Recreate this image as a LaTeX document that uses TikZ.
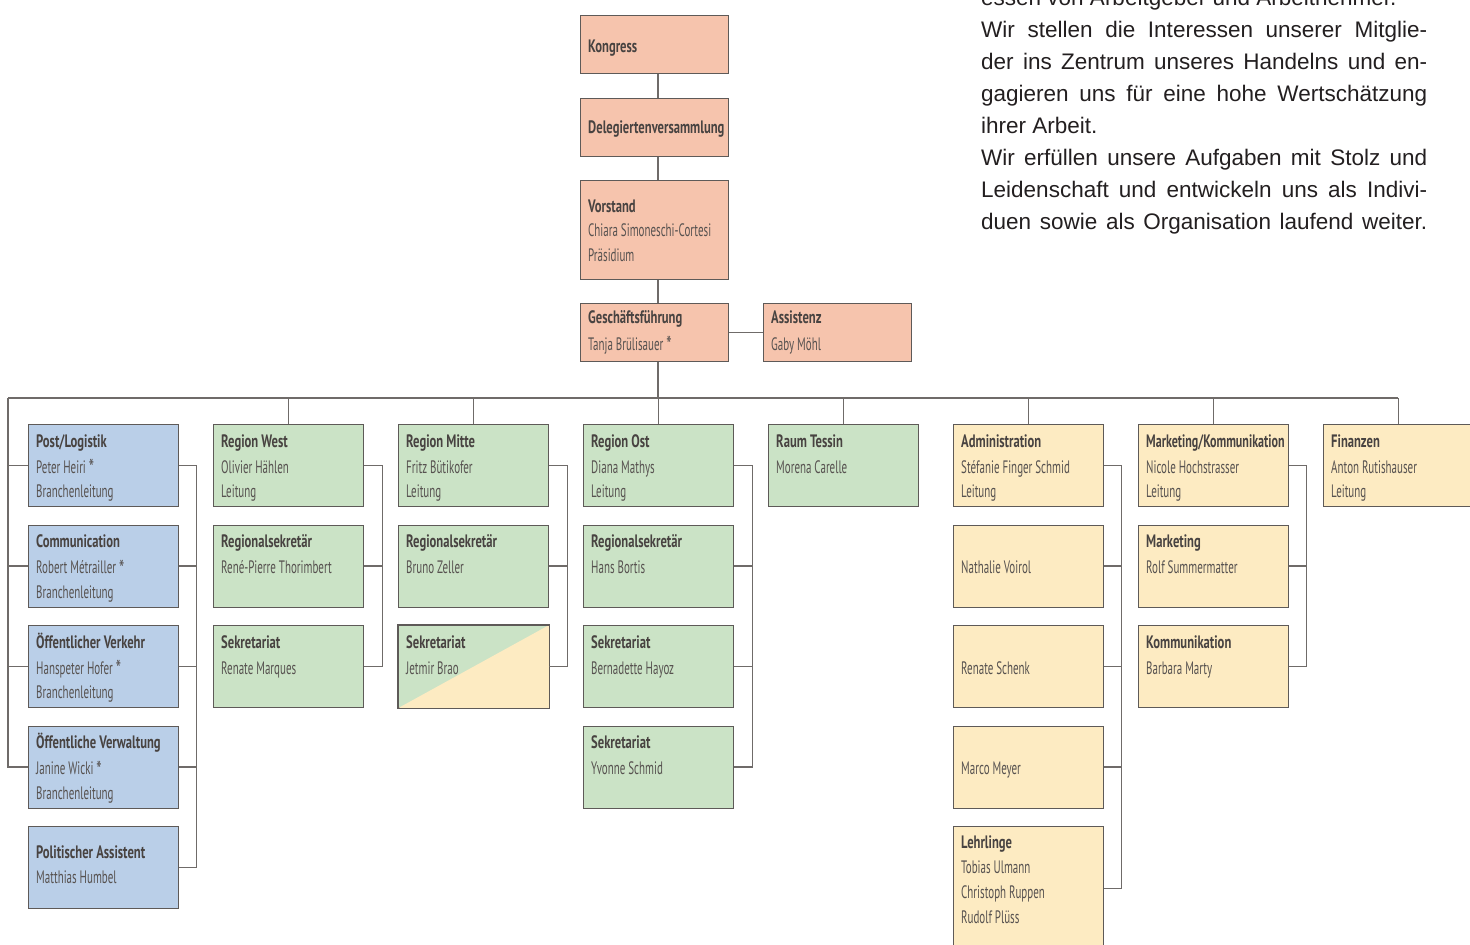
\documentclass[tikz,border=0pt]{standalone}
\usepackage{fontspec}
\usetikzlibrary{calc}
\newfontfamily\titlefont{PT Sans}[FakeStretch=0.70]
\newfontfamily\namefont{PT Sans}[FakeStretch=0.61]
\newfontfamily\parafont{Liberation Sans}
\definecolor{salmon}{HTML}{F6C4AD}
\definecolor{blu}{HTML}{BACFE8}
\definecolor{grn}{HTML}{CBE3C6}
\definecolor{yel}{HTML}{FDEBC2}
\definecolor{bordercol}{HTML}{5E5A58}
\definecolor{linecol}{HTML}{6F6B69}
\definecolor{titlecol}{HTML}{484341}
\definecolor{namecol}{HTML}{575250}
\definecolor{paracol}{HTML}{231F20}
\newcommand\bigast{\raisebox{-3.5pt}{\scalebox{1.35}{*}}}
\newcommand\orgbox[5]{\node[orgbox,fill=#5,minimum height=#4pt] (#1) at (#2,#3) {};}
\newcommand\topbox[5]{\node[orgbox,topbox,fill=#5,minimum height=#4pt] (#1) at (#2,#3) {};}
\newcommand\boxtitle[4]{\node[boxtitle] (#1) at ($(#2.north west)+(8,#3)$) {#4};}
\newcommand\boxline[4]{\node[boxname] (#1) at ($(#2.north west)+(8,#3)$) {#4};}
\newcommand\paraline[3]{\node[paraline] (#1) at (981,#2) {#3};}
\begin{document}
\begin{tikzpicture}[x=1pt,y=-1pt,
  orgbox/.style={draw=bordercol,line width=1.2pt,anchor=north west,minimum width=150pt,inner sep=0pt},
  topbox/.style={minimum width=148pt},
  boxtitle/.style={anchor=base west,inner sep=0pt,text=titlecol,font={\fontsize{18}{20}\selectfont\titlefont\bfseries}},
  boxname/.style={anchor=base west,inner sep=0pt,text=namecol,font={\fontsize{18}{20}\selectfont\namefont}},
  paraline/.style={anchor=base west,inner sep=0pt,text=paracol,font={\fontsize{22.5}{32}\selectfont\parafont}},
  conn/.style={draw=linecol,line width=1.3pt}]
\useasboundingbox (0,0) rectangle (1470,945);
\clip (0,0) rectangle (1470,945);
\fill[white] (0,0) rectangle (1470,945);

% ---------- right paragraph ----------
\paraline{p0}{5}{essen von Arbeitgeber und Arbeitnehmer.}
\paraline{p1}{37}{\makebox[446pt][s]{Wir stellen die Interessen unserer Mitglie-}}
\paraline{p2}{69}{\makebox[446pt][s]{der ins Zentrum unseres Handelns und en-}}
\paraline{p3}{101}{\makebox[446pt][s]{gagieren uns für eine hohe Wertschätzung}}
\paraline{p4}{133}{ihrer Arbeit.}
\paraline{p5}{165}{\makebox[446pt][s]{Wir erfüllen unsere Aufgaben mit Stolz und}}
\paraline{p6}{197}{\makebox[446pt][s]{Leidenschaft und entwickeln uns als Indivi-}}
\paraline{p7}{229}{\makebox[446pt][s]{duen sowie als Organisation laufend weiter.}}

% ---------- top column ----------
\coordinate (axis) at (658,0);
\topbox{kong}{580}{15}{58}{salmon}
\topbox{deleg}{580}{98}{58}{salmon}
\topbox{vor}{580}{180}{99}{salmon}
\topbox{gf}{580}{303}{58}{salmon}
\topbox{ass}{763}{303}{58}{salmon}
\draw[conn] (kong.south -| axis) -- (deleg.north -| axis);
\draw[conn] (deleg.south -| axis) -- (vor.north -| axis);
\draw[conn] (vor.south -| axis) -- (gf.north -| axis);
\draw[conn] (gf.east) -- (ass.west);
\boxtitle{kongA}{kong}{37}{Kongress}
\boxtitle{delegA}{deleg}{35}{Delegiertenversammlung}
\boxtitle{vorA}{vor}{32}{Vorstand}
\boxline{vorB}{vor}{56}{Chiara Simoneschi-Cortesi}
\boxline{vorC}{vor}{81}{Präsidium}
\boxtitle{gfA}{gf}{20}{Geschäftsführung}
\boxline{gfB}{gf}{47}{Tanja Brülisauer \bigast}
\boxtitle{assA}{ass}{20}{Assistenz}
\boxline{assB}{ass}{47}{Gaby Möhl}

% ---------- bus ----------
\coordinate (busL) at (8,398);
\coordinate (busR) at (1398,398);
\draw[conn] (gf.south -| axis) -- (axis |- busL);
\draw[conn] (busL) -- (busR);

% ---------- column 1 (blue) ----------
\orgbox{a1}{28}{424}{82}{blu}
\orgbox{a2}{28}{524.5}{82}{blu}
\orgbox{a3}{28}{625}{82}{blu}
\orgbox{a4}{28}{725.5}{82}{blu}
\orgbox{a5}{28}{826}{82}{blu}
\boxtitle{a1A}{a1}{23}{Post/Logistik}
\boxline{a1B}{a1}{49}{Peter Heiri \bigast}
\boxline{a1C}{a1}{73.5}{Branchenleitung}
\boxtitle{a2A}{a2}{23}{Communication}
\boxline{a2B}{a2}{49}{Robert Métrailler \bigast}
\boxline{a2C}{a2}{73.5}{Branchenleitung}
\boxtitle{a3A}{a3}{23}{Öffentlicher Verkehr}
\boxline{a3B}{a3}{49}{Hanspeter Hofer \bigast}
\boxline{a3C}{a3}{73.5}{Branchenleitung}
\boxtitle{a4A}{a4}{23}{Öffentliche Verwaltung}
\boxline{a4B}{a4}{49}{Janine Wicki \bigast}
\boxline{a4C}{a4}{73.5}{Branchenleitung}
\boxtitle{a5A}{a5}{32}{Politischer Assistent}
\boxline{a5B}{a5}{57}{Matthias Humbel}
\draw[conn] (busL) -- (busL |- a4.west) -- (a4.west);
\foreach \n in {a1,a2,a3} \draw[conn] (\n.west) -- (\n.west -| busL);
\draw[conn] (a1.east) -- ++(17,0) |- (a5.east);
\foreach \n in {a2,a3,a4} \draw[conn] (\n.east) -- ++(17,0);

% ---------- column 2 ----------
\orgbox{b1}{213}{424}{82}{grn}
\orgbox{b2}{213}{524.5}{82}{grn}
\orgbox{b3}{213}{625}{82}{grn}
\boxtitle{b1A}{b1}{23}{Region West}
\boxline{b1B}{b1}{49}{Olivier Hählen}
\boxline{b1C}{b1}{73.5}{Leitung}
\boxtitle{b2A}{b2}{23}{Regionalsekretär}
\boxline{b2B}{b2}{49}{René-Pierre Thorimbert}
\boxtitle{b3A}{b3}{23}{Sekretariat}
\boxline{b3B}{b3}{49}{Renate Marques}
\draw[conn] (b1.north) -- (b1.north |- busL);
\draw[conn] (b1.east) -- ++(18,0) |- (b3.east);
\draw[conn] (b2.east) -- ++(18,0);

% ---------- column 3 ----------
\orgbox{c1}{398}{424}{82}{grn}
\orgbox{c2}{398}{524.5}{82}{grn}
\orgbox{c3}{398}{625}{82}{grn}
\fill[yel] (c3.south west) -- (c3.north east) -- (c3.south east) -- cycle;
\draw[draw=bordercol,line width=1.2pt] (c3.south west) rectangle (c3.north east);
\boxtitle{c1A}{c1}{23}{Region Mitte}
\boxline{c1B}{c1}{49}{Fritz Bütikofer}
\boxline{c1C}{c1}{73.5}{Leitung}
\boxtitle{c2A}{c2}{23}{Regionalsekretär}
\boxline{c2B}{c2}{49}{Bruno Zeller}
\boxtitle{c3A}{c3}{23}{Sekretariat}
\boxline{c3B}{c3}{49}{Jetmir Brao}
\draw[conn] (c1.north) -- (c1.north |- busL);
\draw[conn] (c1.east) -- ++(18,0) |- (c3.east);
\draw[conn] (c2.east) -- ++(18,0);

% ---------- column 4 ----------
\orgbox{d1}{583}{424}{82}{grn}
\orgbox{d2}{583}{524.5}{82}{grn}
\orgbox{d3}{583}{625}{82}{grn}
\orgbox{d4}{583}{725.5}{82}{grn}
\boxtitle{d1A}{d1}{23}{Region Ost}
\boxline{d1B}{d1}{49}{Diana Mathys}
\boxline{d1C}{d1}{73.5}{Leitung}
\boxtitle{d2A}{d2}{23}{Regionalsekretär}
\boxline{d2B}{d2}{49}{Hans Bortis}
\boxtitle{d3A}{d3}{23}{Sekretariat}
\boxline{d3B}{d3}{49}{Bernadette Hayoz}
\boxtitle{d4A}{d4}{23}{Sekretariat}
\boxline{d4B}{d4}{49}{Yvonne Schmid}
\draw[conn] (d1.north) -- (d1.north |- busL);
\draw[conn] (d1.east) -- ++(18,0) |- (d4.east);
\foreach \n in {d2,d3} \draw[conn] (\n.east) -- ++(18,0);

% ---------- column 5 ----------
\orgbox{e1}{768}{424}{82}{grn}
\boxtitle{e1A}{e1}{23}{Raum Tessin}
\boxline{e1B}{e1}{49}{Morena Carelle}
\draw[conn] (e1.north) -- (e1.north |- busL);

% ---------- column 6 ----------
\orgbox{f1}{953}{424}{82}{yel}
\orgbox{f2}{953}{524.5}{82}{yel}
\orgbox{f3}{953}{625}{82}{yel}
\orgbox{f4}{953}{725.5}{82}{yel}
\orgbox{f5}{953}{826}{124}{yel}
\boxtitle{f1A}{f1}{23}{Administration}
\boxline{f1B}{f1}{49}{Stéfanie Finger Schmid}
\boxline{f1C}{f1}{73.5}{Leitung}
\boxline{f2B}{f2}{49}{Nathalie Voirol}
\boxline{f3B}{f3}{49}{Renate Schenk}
\boxline{f4B}{f4}{49}{Marco Meyer}
\boxtitle{f5A}{f5}{22}{Lehrlinge}
\boxline{f5B}{f5}{47}{Tobias Ulmann}
\boxline{f5C}{f5}{72}{Christoph Ruppen}
\boxline{f5D}{f5}{97}{Rudolf Plüss}
\draw[conn] (f1.north) -- (f1.north |- busL);
\draw[conn] (f1.east) -- ++(17,0) |- (f5.east);
\foreach \n in {f2,f3,f4} \draw[conn] (\n.east) -- ++(17,0);

% ---------- column 7 ----------
\orgbox{g1}{1138}{424}{82}{yel}
\orgbox{g2}{1138}{524.5}{82}{yel}
\orgbox{g3}{1138}{625}{82}{yel}
\boxtitle{g1A}{g1}{23}{\scalebox{0.955}[1]{Marketing/Kommunikation}}
\boxline{g1B}{g1}{49}{Nicole Hochstrasser}
\boxline{g1C}{g1}{73.5}{Leitung}
\boxtitle{g2A}{g2}{23}{Marketing}
\boxline{g2B}{g2}{49}{Rolf Summermatter}
\boxtitle{g3A}{g3}{23}{Kommunikation}
\boxline{g3B}{g3}{49}{Barbara Marty}
\draw[conn] (g1.north) -- (g1.north |- busL);
\draw[conn] (g1.east) -- ++(17,0) |- (g3.east);
\draw[conn] (g2.east) -- ++(17,0);

% ---------- column 8 ----------
\orgbox{h1}{1323}{424}{82}{yel}
\boxtitle{h1A}{h1}{23}{Finanzen}
\boxline{h1B}{h1}{49}{Anton Rutishauser}
\boxline{h1C}{h1}{73.5}{Leitung}
\draw[conn] (h1.north) -- (h1.north |- busR);
\end{tikzpicture}
\end{document}
